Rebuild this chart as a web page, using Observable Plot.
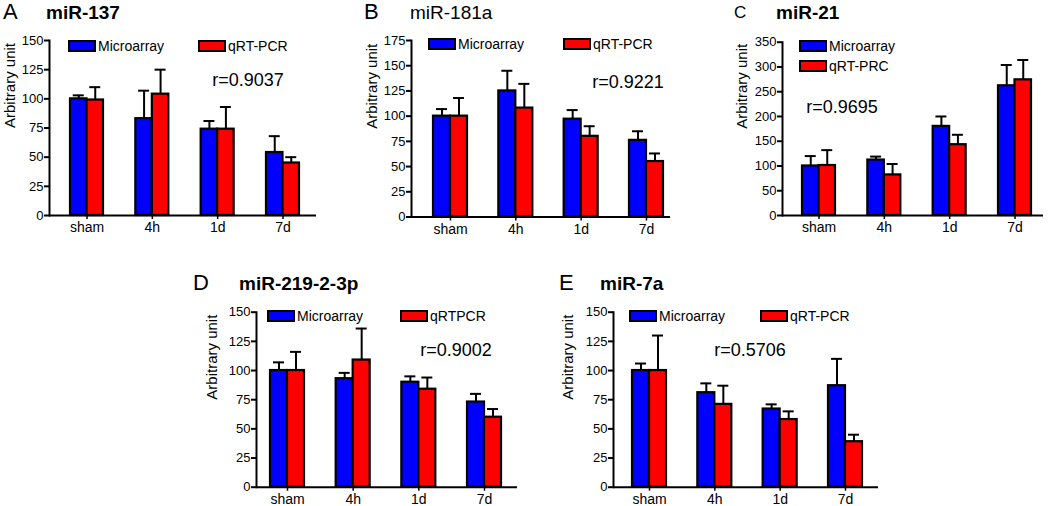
<!DOCTYPE html>
<html><head><meta charset="utf-8">
<script src="https://cdn.jsdelivr.net/npm/d3@7"></script>
<script src="https://cdn.jsdelivr.net/npm/@observablehq/plot@0.6"></script>
<style>
body{margin:0;background:#fff;}
#fig{position:relative;width:1050px;height:506px;background:#fff;font-family:"Liberation Sans",Arial,sans-serif;color:#000;overflow:hidden}
.abs{position:absolute;white-space:nowrap;transform:translateY(-50%);line-height:1}
.panel{position:absolute;left:0;top:0}
.letter{font-size:22px}
.title{font-size:19px;font-weight:bold}
.title.light{font-weight:normal}
.leg{position:absolute;white-space:nowrap;font-size:14px;display:flex;align-items:center;height:12px;line-height:1}
.sw{display:inline-block;box-sizing:border-box;border:2px solid #000;width:28px;height:12px;margin-right:2px}
.r{font-size:18px;transform:translate(-50%,-50%)}
</style></head><body><div id="fig"></div>
<script>
// ---------- data ----------
const categories = ["sham", "4h", "1d", "7d"];
const seriesNames = ["Microarray", "qRT-PCR"];
const panelLetters = ["A", "B", "C", "D", "E"];
const panelTitles = ["miR-137", "miR-181a", "miR-21", "miR-219-2-3p", "miR-7a"];
const legendLabelsA = ["Microarray", "qRT-PCR"];
const legendLabelsB = ["Microarray", "qRT-PCR"];
const legendLabelsC = ["Microarray", "qRT-PRC"];
const legendLabelsD = ["Microarray", "qRTPCR"];
const legendLabelsE = ["Microarray", "qRT-PCR"];
const rValues = ["r=0.9037", "r=0.9221", "r=0.9695", "r=0.9002", "r=0.5706"];
const yLabel = "Arbitrary unit";

const ticksA = [0, 25, 50, 75, 100, 125, 150];
const ticksB = [0, 25, 50, 75, 100, 125, 150, 175];
const ticksC = [0, 50, 100, 150, 200, 250, 300, 350];
const ticksD = [0, 25, 50, 75, 100, 125, 150];
const ticksE = [0, 25, 50, 75, 100, 125, 150];

// means and upper error (SEM)
const microarrayA = [100, 83, 74, 54];
const microarrayErrA = [3, 24, 7, 14];
const qpcrA = [99, 104, 74, 45];
const qpcrErrA = [11, 21, 19, 5];

const microarrayB = [100, 125, 97, 76];
const microarrayErrB = [7, 20, 9, 9];
const qpcrB = [100, 108, 80, 55];
const qpcrErrB = [18, 24, 10, 8];

const microarrayC = [100, 112, 180, 262];
const microarrayErrC = [20, 7, 20, 42];
const qpcrC = [101, 82, 143, 274];
const qpcrErrC = [31, 22, 20, 40];

const microarrayD = [100, 93, 90, 73];
const microarrayErrD = [7, 5, 5, 7];
const qpcrD = [100, 109, 84, 60];
const qpcrErrD = [16, 27, 10, 7];

const microarrayE = [100, 81, 67, 87];
const microarrayErrE = [6, 8, 4, 23];
const qpcrE = [100, 71, 58, 39];
const qpcrErrE = [30, 16, 7, 6];

// ---------- layout (pixels, absolute in the figure) ----------
const layout = [
  {left:0, top:0, w:330, h:250, L:49, R:316, T:40, B:215, g0:70, b:33, s:65.33, ylab:10,
   letter:[3,12], title:[46,12], leg:[[68,40],[198,40]], r:[248,80], light:false},
  {left:360, top:0, w:330, h:250, L:411, R:670, T:40, B:216.5, g0:433, b:34, s:65.33, ylab:372,
   letter:[364,12], title:[410,12], leg:[[428,38],[563,38]], r:[628,82], light:true},
  {left:720, top:0, w:330, h:250, L:782, R:1043, T:41.7, B:215, g0:802, b:33, s:65.33, ylab:742,
   letter:[734,12], title:[776,12], leg:[[799,40],[799,60]], r:[842,107], light:false, smallLetter:true},
  {left:180, top:250, w:345, h:256, L:256, R:517, T:311.7, B:486.7, g0:270, b:34, s:65.67, ylab:212,
   letter:[193,283], title:[239,283], leg:[[267,310],[400,310]], r:[456,350], light:false},
  {left:540, top:250, w:345, h:256, L:613, R:878, T:311.7, B:486.7, g0:632, b:34, s:65.33, ylab:568,
   letter:[559,283], title:[600,283], leg:[[629,310],[760,310]], r:[750,350], light:false}
];

const panelData = [
  {ma: microarrayA, maErr: microarrayErrA, pcr: qpcrA, pcrErr: qpcrErrA, ticks: ticksA, legend: legendLabelsA},
  {ma: microarrayB, maErr: microarrayErrB, pcr: qpcrB, pcrErr: qpcrErrB, ticks: ticksB, legend: legendLabelsB},
  {ma: microarrayC, maErr: microarrayErrC, pcr: qpcrC, pcrErr: qpcrErrC, ticks: ticksC, legend: legendLabelsC},
  {ma: microarrayD, maErr: microarrayErrD, pcr: qpcrD, pcrErr: qpcrErrD, ticks: ticksD, legend: legendLabelsD},
  {ma: microarrayE, maErr: microarrayErrE, pcr: qpcrE, pcrErr: qpcrErrE, ticks: ticksE, legend: legendLabelsE}
];

const BLUE = "#0000ff", RED = "#ff0000";
const fig = document.getElementById("fig");

function addDiv(cls, x, y, text) {
  const d = document.createElement("div");
  d.className = cls;
  d.style.left = x + "px";
  d.style.top = y + "px";
  d.textContent = text;
  fig.appendChild(d);
  return d;
}

panelData.forEach((pd, i) => {
  const lay = layout[i];
  const n = categories.length;
  const range = lay.R - lay.L;
  const pi = 1 - lay.b / lay.s;
  const outer = range - lay.s * (n - pi);
  const po = outer / (2 * lay.s);
  const align = (lay.g0 - lay.L) / outer;
  const rows = categories.map((c, k) => ({
    cat: c, ma: pd.ma[k], maHi: pd.ma[k] + pd.maErr[k], pcr: pd.pcr[k], pcrHi: pd.pcr[k] + pd.pcrErr[k]
  }));
  const half = lay.b / 2, q = lay.b / 4, capIn = (lay.b - 11) / 2;
  const ticks = pd.ticks;
  const chart = Plot.plot({
    width: lay.w, height: lay.h,
    marginLeft: lay.L - lay.left, marginRight: lay.left + lay.w - lay.R,
    marginTop: lay.T - lay.top, marginBottom: lay.top + lay.h - lay.B,
    style: {fontFamily: '"Liberation Sans", Arial, sans-serif', fontSize: "13px", color: "#000", background: "transparent", overflow: "visible"},
    x: {type: "band", domain: categories, paddingInner: pi, paddingOuter: po, align: align, round: false, label: null},
    y: {domain: [ticks[0], ticks[ticks.length - 1]], label: null},
    marks: [
      Plot.ruleX(rows, {x: "cat", y1: "ma", y2: "maHi", dx: -q, stroke: "#000", strokeWidth: 2}),
      Plot.tickY(rows, {x: "cat", y: "maHi", dx: -q, insetLeft: capIn, insetRight: capIn, stroke: "#000", strokeWidth: 2}),
      Plot.ruleX(rows, {x: "cat", y1: "pcr", y2: "pcrHi", dx: q, stroke: "#000", strokeWidth: 2}),
      Plot.tickY(rows, {x: "cat", y: "pcrHi", dx: q, insetLeft: capIn, insetRight: capIn, stroke: "#000", strokeWidth: 2}),
      Plot.barY(rows, {x: "cat", y: "ma", fill: BLUE, stroke: "#000", strokeWidth: 2.2, insetRight: half}),
      Plot.barY(rows, {x: "cat", y: "pcr", fill: RED, stroke: "#000", strokeWidth: 2.2, insetLeft: half}),
      Plot.ruleY([0], {stroke: "#000", strokeWidth: 2}),
      Plot.frame({anchor: "left", stroke: "#000", strokeWidth: 2}),
      Plot.axisY({ticks: ticks, tickSize: 5, tickPadding: 1, fontSize: 13, strokeWidth: 2, label: null}),
      Plot.axisX({tickSize: 4, tickPadding: 3, fontSize: 14, strokeWidth: 1.5, label: null}),
      Plot.text([yLabel], {frameAnchor: "left", rotate: -90, dx: lay.ylab - lay.L, fontSize: 15, fill: "#000"})
    ]
  });
  chart.classList.add("panel");
  chart.style.left = lay.left + "px";
  chart.style.top = lay.top + "px";
  chart.style.position = "absolute";
  fig.appendChild(chart);

  const letter = addDiv("abs letter", lay.letter[0], lay.letter[1], panelLetters[i]);
  if (lay.smallLetter) letter.style.fontSize = "17px";
  addDiv("abs title" + (lay.light ? " light" : ""), lay.title[0], lay.title[1], panelTitles[i]);
  addDiv("abs r", lay.r[0], lay.r[1], rValues[i]);
  [BLUE, RED].forEach((col, k) => {
    const item = document.createElement("div");
    item.className = "leg";
    item.style.left = lay.leg[k][0] + "px";
    item.style.top = lay.leg[k][1] + "px";
    const sw = document.createElement("span");
    sw.className = "sw";
    sw.style.background = col;
    item.appendChild(sw);
    item.appendChild(document.createTextNode(pd.legend[k]));
    fig.appendChild(item);
  });
});
</script>
</body></html>
